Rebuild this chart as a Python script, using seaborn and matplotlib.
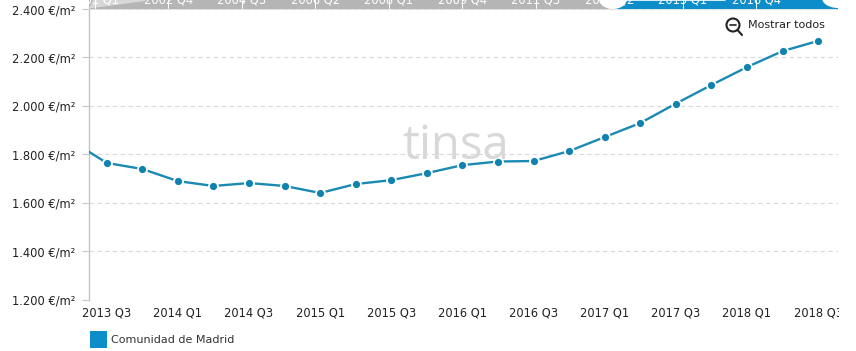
import matplotlib
matplotlib.use("Agg")
import matplotlib.pyplot as plt
import pandas as pd
import seaborn as sns
from matplotlib.patches import Circle, Ellipse, Polygon, Rectangle
from matplotlib.transforms import Bbox

# 2013 Q2 sits left of the visible range, only its line segment shows
quarters = ["2013 Q2", "2013 Q3", "2013 Q4", "2014 Q1", "2014 Q2", "2014 Q3", "2014 Q4",
            "2015 Q1", "2015 Q2", "2015 Q3", "2015 Q4", "2016 Q1", "2016 Q2", "2016 Q3",
            "2016 Q4", "2017 Q1", "2017 Q2", "2017 Q3", "2017 Q4", "2018 Q1", "2018 Q2",
            "2018 Q3"]
prices = [1856, 1764, 1739, 1689, 1669, 1681, 1669, 1640, 1677, 1693, 1722, 1755, 1770,
          1772, 1813, 1871, 1929, 2009, 2086, 2160, 2226, 2268]
y_ticks = [1200, 1400, 1600, 1800, 2000, 2200, 2400]
y_labels = ["1.200 €/m²", "1.400 €/m²", "1.600 €/m²", "1.800 €/m²", "2.000 €/m²",
            "2.200 €/m²", "2.400 €/m²"]
nav_labels = ["2001 Q1", "2002 Q4", "2004 Q3", "2006 Q2", "2008 Q1", "2009 Q4", "2011 Q3",
              "2013 Q2", "2015 Q1", "2016 Q4"]
series_name = "Comunidad de Madrid"

LINE = "#1b8ab3"
BLUE = "#0d8dc9"
GRAY = "#b5b5b5"
W, H = 856, 351

sns.set_theme(style="white")
plt.rcParams["font.family"] = ["DejaVu Sans"]

df = pd.DataFrame({"quarter": quarters, "price": prices})
df["pos"] = range(-1, len(df) - 1)

fig = plt.figure(figsize=(W / 100, H / 100), dpi=100, facecolor="white")
ax = fig.add_axes([89 / W, 1 - 299.5 / H, (838 - 89) / W, (299.5 - 9) / H])

sns.lineplot(data=df, x="pos", y="price", ax=ax, color=LINE, linewidth=1.7, marker="o",
             markersize=6.5, markerfacecolor="#0f82b0", markeredgecolor="white",
             markeredgewidth=1.3, zorder=5)

ax.set_xlim(-0.5, 20.56)
ax.set_ylim(1200, 2400)
ax.set_xlabel("")
ax.set_ylabel("")

ax.set_yticks(y_ticks)
ax.set_yticklabels(y_labels, fontsize=8.3, color="#222222")
ax.tick_params(axis="y", length=5, width=0.8, color="#c8c8c8", pad=5, left=True)
ax.yaxis.grid(True, color="#d9d9d9", linestyle=(0, (4, 3)), linewidth=0.8)
ax.set_axisbelow(True)

shown = df[(df["pos"] >= 0) & (df["pos"] % 2 == 0)]
ax.set_xticks(shown["pos"])
ax.set_xticklabels(shown["quarter"], fontsize=8.3, color="#222222")
ax.tick_params(axis="x", length=0, pad=5)

for side in ["top", "right", "bottom"]:
    ax.spines[side].set_visible(False)
ax.spines["left"].set_color("#c4c4c4")
ax.spines["left"].set_linewidth(1)

# last label runs off the chart area
for label in ax.get_xticklabels():
    label.set_clip_box(Bbox([[0, 0], [839, H]]))
    label.set_clip_on(True)

# pixel overlay for navigator, watermark, zoom button and legend
over = fig.add_axes([0, 0, 1, 1], facecolor="none")
over.set_xlim(0, W)
over.set_ylim(H, 0)
over.axis("off")

over.add_patch(Rectangle((89, -2), 524, 10.5, color=GRAY, lw=0))
over.add_patch(Polygon([[89, 8.5], [94, -2], [145, -2], [145, 1]], color="#d8d8d8", lw=0))
over.add_patch(Rectangle((613, -2), 225, 10.5, color=BLUE, lw=0))
over.plot([625, 725], [0.4, 0.4], color="white", lw=1.2, zorder=1)
over.plot([89, 838], [8.8, 8.8], color="#e2e2e2", lw=0.6, zorder=1)
for i, name in enumerate(nav_labels):
    xpos = 95 + i * 73.5
    over.plot([xpos, xpos], [0, 8], color="white", lw=0.7, zorder=2)
    over.text(xpos, 0, name, color="white", fontsize=8.3, ha="center", va="center",
              clip_on=True, zorder=2)
over.add_patch(Ellipse((613, -1), 28, 20, color="white", lw=0, zorder=3))
over.add_patch(Ellipse((838, -2), 32, 20, color="white", lw=0, zorder=3))
over.add_patch(Rectangle((838, -2), 18, 12, color="white", lw=0, zorder=3))

over.text(456, 146, "tinsa", fontsize=34, color="#d8d8d8", ha="center", va="center",
          family="Open Sans", zorder=0)

over.add_patch(Circle((733, 25), 6.5, fill=False, ec="#222222", lw=1.5))
over.plot([737.5, 742], [30, 35], color="#222222", lw=1.5)
over.plot([730, 736], [25, 25], color="#222222", lw=1.2)
over.text(748, 25, "Mostrar todos", fontsize=8, color="#222222", ha="left", va="center")

over.add_patch(Rectangle((90, 331), 17, 17, color=BLUE, lw=0))
over.text(111, 340, series_name, fontsize=8, color="#333333", ha="left", va="center")

fig.savefig("out.png", dpi=100)
